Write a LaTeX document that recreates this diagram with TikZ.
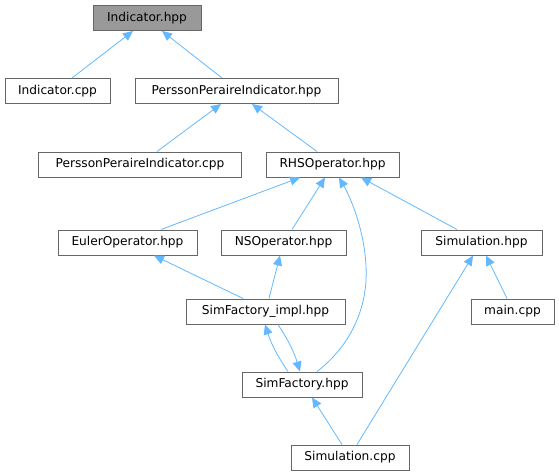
\documentclass[tikz,border=0pt]{standalone}
\usepackage{fontspec}
\setmainfont{DejaVu Sans}
\usetikzlibrary{arrows.meta}
\usepackage{xcolor}
\definecolor{edgeblue}{HTML}{63B8FF}
\definecolor{boxgray}{HTML}{666666}
\definecolor{rootgray}{HTML}{999999}

\begin{document}
\begin{tikzpicture}[x=1pt, y=-1pt]
        % ================= styles =================
        \tikzset{
            % file box: white fill, gray border
            filebox/.style={rectangle, draw=boxgray, line width=1pt, fill=white,
                minimum height=25pt, inner sep=0pt, font=\fontsize{12.2}{14}\selectfont},
            % the header the graph is about
            rootbox/.style={filebox, fill=rootgray},
            % include edge: light blue, filled head at the included file
            dep/.style={edgeblue, line width=0.8pt, -{Triangle[length=10pt, width=9pt]}}
        }
        \useasboundingbox (0,0) rectangle (559,476);

        % ================= 1. file boxes =================
        \node[rootbox, minimum width=108pt] (ihpp) at (147, 18) {Indicator.hpp};

        \node[filebox, minimum width=105pt] (icpp)   at (57.5, 91)  {Indicator.cpp};
        \node[filebox, minimum width=203pt] (ppihpp) at (236.5, 91) {PerssonPeraireIndicator.hpp};

        \node[filebox, minimum width=203pt] (ppicpp) at (140, 164.5)   {PerssonPeraireIndicator.cpp};
        \node[filebox, minimum width=133pt] (rhs)    at (332.5, 164.5) {RHSOperator.hpp};

        \node[filebox, minimum width=139pt] (euler)  at (127.5, 242.5) {EulerOperator.hpp};
        \node[filebox, minimum width=125pt] (ns)     at (283.5, 242.5) {NSOperator.hpp};
        \node[filebox, minimum width=121pt] (simhpp) at (481.5, 242.5) {Simulation.hpp};

        \node[filebox, minimum width=159pt] (sfimpl)  at (265.5, 311.5) {SimFactory\_impl.hpp};
        \node[filebox, minimum width=83pt]  (maincpp) at (512.5, 311.5) {main.cpp};

        \node[filebox, minimum width=120pt] (sf)     at (302, 384.5) {SimFactory.hpp};
        \node[filebox, minimum width=118pt] (simcpp) at (350, 457.5) {Simulation.cpp};

        % bend point of the long SimFactory -> RHSOperator edge
        \coordinate (sfbend) at (366, 280);

        % ================= 2. include edges =================
        \draw[dep] ([xshift=14.5pt]icpp.north) -- ([xshift=-14pt]ihpp.south);
        \draw[dep] ([xshift=-14.5pt]ppihpp.north) -- ([xshift=15pt]ihpp.south);

        \draw[dep] ([xshift=17pt]ppicpp.north) -- ([xshift=-15.5pt]ppihpp.south);
        \draw[dep] ([xshift=-15.5pt]rhs.north) -- ([xshift=15.5pt]ppihpp.south);

        \draw[dep] ([xshift=33.5pt]euler.north) -- ([xshift=-32.5pt]rhs.south);
        \draw[dep] ([xshift=8.5pt]ns.north) -- ([xshift=-7.5pt]rhs.south);
        \draw[dep] ([xshift=-24.5pt]simhpp.north) -- ([xshift=28.5pt]rhs.south);
        \draw[dep] ([xshift=15pt]sf.north) .. controls (345, 350) and (364, 318) .. (sfbend)
            .. controls (368, 240) and (352, 200) .. ([xshift=6.5pt]rhs.south);

        \draw[dep] ([xshift=-22.5pt]sfimpl.north) -- ([xshift=26.5pt]euler.south);
        \draw[dep] ([xshift=3.5pt]sfimpl.north) -- ([xshift=-3.5pt]ns.south);
        \draw[dep] ([xshift=-5.5pt]maincpp.north) -- ([xshift=4.5pt]simhpp.south);
        \draw[dep] ([xshift=7pt]simcpp.north) -- ([xshift=-8.5pt]simhpp.south);

        % the two files include each other
        \draw[dep] ([xshift=-14pt]sf.north) to[bend left=8] ([xshift=-0.5pt]sfimpl.south);
        \draw[dep] ([xshift=12.5pt]sfimpl.south) to[bend left=8] ([xshift=-2pt]sf.north);

        \draw[dep] ([xshift=-8pt]simcpp.north) -- ([xshift=10pt]sf.south);

    \end{tikzpicture}
\end{document}
